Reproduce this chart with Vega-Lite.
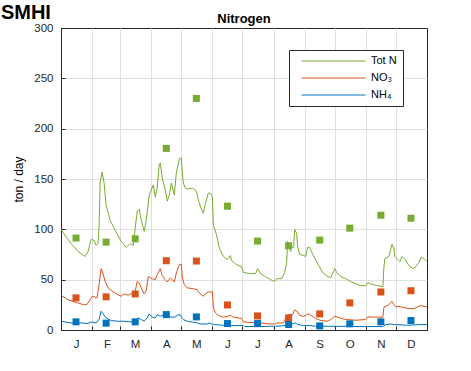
{
  "$schema": "https://vega.github.io/schema/vega-lite/v6.json",
  "width": 366,
  "height": 302,
  "autosize": {"type": "none"},
  "padding": {"left": 61, "top": 28, "right": 44, "bottom": 41},
  "title": {"text": "Nitrogen", "fontSize": 13, "fontWeight": "bold", "font": "Liberation Sans", "color": "#000000", "anchor": "middle", "frame": "group", "baseline": "alphabetic", "offset": -33.7},
  "config": {
    "font": "Liberation Sans",
    "view": {"stroke": "#262626", "strokeWidth": 1},
    "axis": {"domainColor": "#262626", "tickColor": "#262626", "labelColor": "#262626", "titleColor": "#000000", "gridColor": "#dfdfdf", "gridWidth": 1, "labelFontSize": 11.5, "titleFontWeight": "normal", "labelOverlap": false, "labelSeparation": 0}
  },
  "datasets": {
    "daily": [
      {"d":0,"v":100,"s":"Tot N"},{"d":4,"v":94,"s":"Tot N"},{"d":7,"v":90,"s":"Tot N"},{"d":10,"v":86,"s":"Tot N"},{"d":17,"v":78,"s":"Tot N"},{"d":24,"v":73,"s":"Tot N"},{"d":27,"v":78,"s":"Tot N"},{"d":29,"v":86,"s":"Tot N"},{"d":30,"v":90,"s":"Tot N"},{"d":33,"v":89,"s":"Tot N"},{"d":35,"v":84,"s":"Tot N"},{"d":37,"v":86,"s":"Tot N"},{"d":38,"v":103,"s":"Tot N"},{"d":39,"v":146,"s":"Tot N"},{"d":41,"v":157,"s":"Tot N"},{"d":43,"v":146,"s":"Tot N"},{"d":45,"v":124,"s":"Tot N"},{"d":49,"v":109,"s":"Tot N"},{"d":54,"v":99,"s":"Tot N"},{"d":60,"v":88,"s":"Tot N"},{"d":65,"v":82,"s":"Tot N"},{"d":69,"v":86,"s":"Tot N"},{"d":72,"v":84,"s":"Tot N"},{"d":74,"v":101,"s":"Tot N"},{"d":76,"v":118,"s":"Tot N"},{"d":78,"v":120,"s":"Tot N"},{"d":80,"v":109,"s":"Tot N"},{"d":83,"v":98,"s":"Tot N"},{"d":85,"v":109,"s":"Tot N"},{"d":88,"v":134,"s":"Tot N"},{"d":90,"v":139,"s":"Tot N"},{"d":92,"v":144,"s":"Tot N"},{"d":94,"v":132,"s":"Tot N"},{"d":96,"v":142,"s":"Tot N"},{"d":98,"v":164,"s":"Tot N"},{"d":99,"v":166,"s":"Tot N"},{"d":101,"v":151,"s":"Tot N"},{"d":104,"v":139,"s":"Tot N"},{"d":106,"v":128,"s":"Tot N"},{"d":108,"v":134,"s":"Tot N"},{"d":110,"v":146,"s":"Tot N"},{"d":111,"v":142,"s":"Tot N"},{"d":113,"v":134,"s":"Tot N"},{"d":115,"v":156,"s":"Tot N"},{"d":118,"v":170,"s":"Tot N"},{"d":120,"v":171,"s":"Tot N"},{"d":121,"v":156,"s":"Tot N"},{"d":122,"v":146,"s":"Tot N"},{"d":124,"v":141,"s":"Tot N"},{"d":126,"v":140,"s":"Tot N"},{"d":131,"v":141,"s":"Tot N"},{"d":135,"v":138,"s":"Tot N"},{"d":137,"v":129,"s":"Tot N"},{"d":140,"v":120,"s":"Tot N"},{"d":142,"v":116,"s":"Tot N"},{"d":144,"v":126,"s":"Tot N"},{"d":147,"v":136,"s":"Tot N"},{"d":149,"v":136,"s":"Tot N"},{"d":151,"v":132,"s":"Tot N"},{"d":152,"v":104,"s":"Tot N"},{"d":155,"v":95,"s":"Tot N"},{"d":158,"v":81,"s":"Tot N"},{"d":162,"v":73,"s":"Tot N"},{"d":166,"v":70,"s":"Tot N"},{"d":169,"v":74,"s":"Tot N"},{"d":170,"v":69,"s":"Tot N"},{"d":175,"v":65,"s":"Tot N"},{"d":180,"v":63,"s":"Tot N"},{"d":182,"v":57,"s":"Tot N"},{"d":189,"v":56,"s":"Tot N"},{"d":194,"v":56,"s":"Tot N"},{"d":196,"v":61,"s":"Tot N"},{"d":199,"v":56,"s":"Tot N"},{"d":204,"v":53,"s":"Tot N"},{"d":209,"v":50,"s":"Tot N"},{"d":213,"v":48,"s":"Tot N"},{"d":215,"v":51,"s":"Tot N"},{"d":220,"v":51,"s":"Tot N"},{"d":223,"v":57,"s":"Tot N"},{"d":225,"v":66,"s":"Tot N"},{"d":226,"v":88,"s":"Tot N"},{"d":227,"v":85,"s":"Tot N"},{"d":229,"v":78,"s":"Tot N"},{"d":230,"v":82,"s":"Tot N"},{"d":232,"v":82,"s":"Tot N"},{"d":233,"v":100,"s":"Tot N"},{"d":235,"v":96,"s":"Tot N"},{"d":236,"v":83,"s":"Tot N"},{"d":238,"v":75,"s":"Tot N"},{"d":242,"v":74,"s":"Tot N"},{"d":244,"v":73,"s":"Tot N"},{"d":246,"v":82,"s":"Tot N"},{"d":248,"v":82,"s":"Tot N"},{"d":251,"v":75,"s":"Tot N"},{"d":255,"v":68,"s":"Tot N"},{"d":257,"v":64,"s":"Tot N"},{"d":261,"v":57,"s":"Tot N"},{"d":266,"v":53,"s":"Tot N"},{"d":269,"v":52,"s":"Tot N"},{"d":273,"v":61,"s":"Tot N"},{"d":275,"v":57,"s":"Tot N"},{"d":279,"v":53,"s":"Tot N"},{"d":284,"v":51,"s":"Tot N"},{"d":289,"v":48,"s":"Tot N"},{"d":294,"v":46,"s":"Tot N"},{"d":299,"v":44,"s":"Tot N"},{"d":304,"v":44,"s":"Tot N"},{"d":306,"v":47,"s":"Tot N"},{"d":311,"v":45,"s":"Tot N"},{"d":316,"v":44,"s":"Tot N"},{"d":321,"v":43,"s":"Tot N"},{"d":322,"v":62,"s":"Tot N"},{"d":323,"v":71,"s":"Tot N"},{"d":327,"v":73,"s":"Tot N"},{"d":329,"v":81,"s":"Tot N"},{"d":330,"v":85,"s":"Tot N"},{"d":332,"v":81,"s":"Tot N"},{"d":333,"v":73,"s":"Tot N"},{"d":336,"v":70,"s":"Tot N"},{"d":338,"v":68,"s":"Tot N"},{"d":340,"v":73,"s":"Tot N"},{"d":343,"v":70,"s":"Tot N"},{"d":347,"v":64,"s":"Tot N"},{"d":351,"v":61,"s":"Tot N"},{"d":354,"v":63,"s":"Tot N"},{"d":357,"v":67,"s":"Tot N"},{"d":359,"v":72,"s":"Tot N"},{"d":362,"v":71,"s":"Tot N"},{"d":365,"v":68,"s":"Tot N"},

      {"d":0,"v":34.5,"s":"NO₃"},{"d":7,"v":30,"s":"NO₃"},{"d":15,"v":27.5,"s":"NO₃"},{"d":23,"v":25,"s":"NO₃"},{"d":26,"v":25.5,"s":"NO₃"},{"d":29,"v":30,"s":"NO₃"},{"d":31,"v":33.5,"s":"NO₃"},{"d":33,"v":33,"s":"NO₃"},{"d":36,"v":32,"s":"NO₃"},{"d":38,"v":45,"s":"NO₃"},{"d":40,"v":61,"s":"NO₃"},{"d":42,"v":55.6,"s":"NO₃"},{"d":44,"v":48.3,"s":"NO₃"},{"d":47,"v":41.8,"s":"NO₃"},{"d":52,"v":37.8,"s":"NO₃"},{"d":57,"v":35,"s":"NO₃"},{"d":60,"v":33.5,"s":"NO₃"},{"d":63,"v":36,"s":"NO₃"},{"d":67,"v":34.5,"s":"NO₃"},{"d":70,"v":36,"s":"NO₃"},{"d":74,"v":38.4,"s":"NO₃"},{"d":76,"v":48.3,"s":"NO₃"},{"d":78,"v":46.7,"s":"NO₃"},{"d":80,"v":41.8,"s":"NO₃"},{"d":83,"v":36,"s":"NO₃"},{"d":85,"v":39,"s":"NO₃"},{"d":87,"v":53,"s":"NO₃"},{"d":89,"v":52,"s":"NO₃"},{"d":91,"v":51,"s":"NO₃"},{"d":94,"v":50,"s":"NO₃"},{"d":96,"v":55,"s":"NO₃"},{"d":99,"v":61,"s":"NO₃"},{"d":101,"v":54,"s":"NO₃"},{"d":104,"v":50,"s":"NO₃"},{"d":106,"v":47.7,"s":"NO₃"},{"d":109,"v":51.7,"s":"NO₃"},{"d":111,"v":50,"s":"NO₃"},{"d":113,"v":47.7,"s":"NO₃"},{"d":115,"v":56.6,"s":"NO₃"},{"d":118,"v":65,"s":"NO₃"},{"d":120,"v":65.5,"s":"NO₃"},{"d":121,"v":51.7,"s":"NO₃"},{"d":123,"v":45,"s":"NO₃"},{"d":126,"v":41.8,"s":"NO₃"},{"d":132,"v":41,"s":"NO₃"},{"d":136,"v":40,"s":"NO₃"},{"d":138,"v":36.8,"s":"NO₃"},{"d":142,"v":33.5,"s":"NO₃"},{"d":144,"v":36,"s":"NO₃"},{"d":147,"v":37.8,"s":"NO₃"},{"d":151,"v":37.8,"s":"NO₃"},{"d":152,"v":22,"s":"NO₃"},{"d":154,"v":17,"s":"NO₃"},{"d":157,"v":14.4,"s":"NO₃"},{"d":162,"v":12.7,"s":"NO₃"},{"d":167,"v":13.7,"s":"NO₃"},{"d":169,"v":14.7,"s":"NO₃"},{"d":172,"v":12.7,"s":"NO₃"},{"d":180,"v":11.4,"s":"NO₃"},{"d":182,"v":8.1,"s":"NO₃"},{"d":195,"v":7,"s":"NO₃"},{"d":199,"v":7,"s":"NO₃"},{"d":209,"v":6,"s":"NO₃"},{"d":214,"v":6,"s":"NO₃"},{"d":215,"v":7,"s":"NO₃"},{"d":222,"v":7,"s":"NO₃"},{"d":225,"v":13.7,"s":"NO₃"},{"d":227,"v":15,"s":"NO₃"},{"d":231,"v":15.5,"s":"NO₃"},{"d":233,"v":20,"s":"NO₃"},{"d":236,"v":18,"s":"NO₃"},{"d":238,"v":14.4,"s":"NO₃"},{"d":242,"v":13.5,"s":"NO₃"},{"d":245,"v":15.3,"s":"NO₃"},{"d":247,"v":16,"s":"NO₃"},{"d":249,"v":14.7,"s":"NO₃"},{"d":254,"v":11.4,"s":"NO₃"},{"d":259,"v":9.4,"s":"NO₃"},{"d":266,"v":8.7,"s":"NO₃"},{"d":269,"v":10.4,"s":"NO₃"},{"d":273,"v":13.7,"s":"NO₃"},{"d":278,"v":12,"s":"NO₃"},{"d":284,"v":10.4,"s":"NO₃"},{"d":294,"v":9.7,"s":"NO₃"},{"d":304,"v":10.4,"s":"NO₃"},{"d":306,"v":13,"s":"NO₃"},{"d":317,"v":12.7,"s":"NO₃"},{"d":321,"v":12.7,"s":"NO₃"},{"d":322,"v":22.6,"s":"NO₃"},{"d":324,"v":23.6,"s":"NO₃"},{"d":327,"v":25.2,"s":"NO₃"},{"d":330,"v":28.5,"s":"NO₃"},{"d":332,"v":25.2,"s":"NO₃"},{"d":334,"v":23,"s":"NO₃"},{"d":337,"v":23.6,"s":"NO₃"},{"d":340,"v":22.6,"s":"NO₃"},{"d":347,"v":21.3,"s":"NO₃"},{"d":352,"v":21.3,"s":"NO₃"},{"d":355,"v":22.6,"s":"NO₃"},{"d":358,"v":24.3,"s":"NO₃"},{"d":362,"v":23.6,"s":"NO₃"},{"d":365,"v":23,"s":"NO₃"},

      {"d":0,"v":8.7,"s":"NH₄"},{"d":10,"v":7,"s":"NH₄"},{"d":20,"v":7,"s":"NH₄"},{"d":27,"v":6.5,"s":"NH₄"},{"d":30,"v":8,"s":"NH₄"},{"d":35,"v":7,"s":"NH₄"},{"d":38,"v":10.4,"s":"NH₄"},{"d":40,"v":18.6,"s":"NH₄"},{"d":42,"v":16,"s":"NH₄"},{"d":45,"v":12,"s":"NH₄"},{"d":50,"v":9.4,"s":"NH₄"},{"d":57,"v":8.7,"s":"NH₄"},{"d":63,"v":8.7,"s":"NH₄"},{"d":70,"v":8,"s":"NH₄"},{"d":74,"v":8.7,"s":"NH₄"},{"d":77,"v":12,"s":"NH₄"},{"d":80,"v":10.4,"s":"NH₄"},{"d":83,"v":8.7,"s":"NH₄"},{"d":86,"v":12,"s":"NH₄"},{"d":88,"v":16,"s":"NH₄"},{"d":91,"v":12.7,"s":"NH₄"},{"d":94,"v":12,"s":"NH₄"},{"d":96,"v":15.3,"s":"NH₄"},{"d":99,"v":13.7,"s":"NH₄"},{"d":102,"v":14.7,"s":"NH₄"},{"d":105,"v":13.7,"s":"NH₄"},{"d":110,"v":12.7,"s":"NH₄"},{"d":113,"v":12.7,"s":"NH₄"},{"d":116,"v":14.7,"s":"NH₄"},{"d":119,"v":15.3,"s":"NH₄"},{"d":121,"v":11.4,"s":"NH₄"},{"d":122,"v":10.4,"s":"NH₄"},{"d":126,"v":8.7,"s":"NH₄"},{"d":136,"v":7,"s":"NH₄"},{"d":139,"v":6,"s":"NH₄"},{"d":146,"v":6,"s":"NH₄"},{"d":148,"v":7,"s":"NH₄"},{"d":152,"v":5.4,"s":"NH₄"},{"d":162,"v":4.7,"s":"NH₄"},{"d":169,"v":4.4,"s":"NH₄"},{"d":182,"v":4.4,"s":"NH₄"},{"d":183,"v":3.4,"s":"NH₄"},{"d":199,"v":3.4,"s":"NH₄"},{"d":206,"v":3.7,"s":"NH₄"},{"d":214,"v":3.7,"s":"NH₄"},{"d":219,"v":4,"s":"NH₄"},{"d":225,"v":4.7,"s":"NH₄"},{"d":234,"v":7,"s":"NH₄"},{"d":236,"v":5.4,"s":"NH₄"},{"d":242,"v":4.4,"s":"NH₄"},{"d":248,"v":4.4,"s":"NH₄"},{"d":254,"v":3.7,"s":"NH₄"},{"d":274,"v":3.7,"s":"NH₄"},{"d":304,"v":3.4,"s":"NH₄"},{"d":321,"v":3.4,"s":"NH₄"},{"d":322,"v":4.4,"s":"NH₄"},{"d":324,"v":5.4,"s":"NH₄"},{"d":329,"v":6,"s":"NH₄"},{"d":332,"v":5.4,"s":"NH₄"},{"d":347,"v":4.7,"s":"NH₄"},{"d":357,"v":5.4,"s":"NH₄"},{"d":365,"v":5.4,"s":"NH₄"}
    ],
    "monthly": [
      {"d":15,"v":91.3,"s":"Tot N"},{"d":45,"v":87.3,"s":"Tot N"},{"d":74,"v":90.6,"s":"Tot N"},{"d":105,"v":180.4,"s":"Tot N"},{"d":135,"v":230,"s":"Tot N"},{"d":166,"v":123,"s":"Tot N"},{"d":196,"v":88.3,"s":"Tot N"},{"d":227,"v":83.7,"s":"Tot N"},{"d":258,"v":89.3,"s":"Tot N"},{"d":288,"v":101.2,"s":"Tot N"},{"d":319,"v":114,"s":"Tot N"},{"d":349,"v":111,"s":"Tot N"},
      {"d":15,"v":31.9,"s":"NO₃"},{"d":45,"v":32.9,"s":"NO₃"},{"d":74,"v":35.8,"s":"NO₃"},{"d":105,"v":68.8,"s":"NO₃"},{"d":135,"v":68.5,"s":"NO₃"},{"d":166,"v":24.9,"s":"NO₃"},{"d":196,"v":14,"s":"NO₃"},{"d":227,"v":12,"s":"NO₃"},{"d":258,"v":16,"s":"NO₃"},{"d":288,"v":26.9,"s":"NO₃"},{"d":319,"v":37.8,"s":"NO₃"},{"d":349,"v":39,"s":"NO₃"},
      {"d":15,"v":8.1,"s":"NH₄"},{"d":45,"v":6.8,"s":"NH₄"},{"d":74,"v":8.1,"s":"NH₄"},{"d":105,"v":15.3,"s":"NH₄"},{"d":135,"v":13,"s":"NH₄"},{"d":166,"v":6.4,"s":"NH₄"},{"d":196,"v":6.4,"s":"NH₄"},{"d":227,"v":5.4,"s":"NH₄"},{"d":258,"v":4.1,"s":"NH₄"},{"d":288,"v":6.1,"s":"NH₄"},{"d":319,"v":8.1,"s":"NH₄"},{"d":349,"v":9.4,"s":"NH₄"}
    ]
  },
  "layer": [
    {
      "data": {"name": "daily"},
      "mark": {"type": "line", "strokeWidth": 1, "clip": true},
      "encoding": {
        "x": {
          "field": "d", "type": "quantitative",
          "scale": {"domain": [0, 365], "nice": false, "zero": false},
          "axis": {
            "title": null,
            "values": [0, 31, 59, 90, 120, 151, 181, 212, 243, 273, 304, 334, 365],
            "tickCount": 20,
            "labelExpr": "['J','F','M','A','M','J','J','A','S','O','N','D',''][indexof([0,31,59,90,120,151,181,212,243,273,304,334,365], datum.value)]",
            "labelOffset": 15,
            "labelFlush": false,
            "labelOverlap": false,
            "labelPadding": 12,
            "tickSize": -4,
            "gridOpacity": {"condition": {"test": "datum.value == 0 || datum.value == 365", "value": 0}, "value": 1}
          }
        },
        "y": {
          "field": "v", "type": "quantitative",
          "scale": {"domain": [0, 300], "nice": false},
          "axis": {
            "title": "ton / day",
            "titleFontSize": 12,
            "titlePadding": 8,
            "values": [0, 50, 100, 150, 200, 250, 300],
            "tickCount": 10,
            "labelPadding": 12,
            "tickSize": -4,
            "gridOpacity": {"condition": {"test": "datum.value == 0 || datum.value == 300", "value": 0}, "value": 1}
          }
        },
        "color": {
          "field": "s", "type": "nominal",
          "scale": {"domain": ["Tot N", "NO₃", "NH₄"], "range": ["#77AC30", "#D95319", "#0072BD"]},
          "legend": {
            "orient": "none", "legendX": 228, "legendY": 22, "title": null,
            "symbolType": "M-6.4,0H6.4", "symbolSize": 100, "symbolStrokeWidth": 1,
            "symbolOffset": 33.5, "labelOffset": 32,
            "labelFontSize": 11, "labelFont": "Liberation Sans", "labelColor": "#000000",
            "padding": 5.5, "rowPadding": 5,
            "strokeColor": "#262626", "fillColor": "#ffffff", "cornerRadius": 0
          }
        }
      }
    },
    {
      "data": {"name": "monthly"},
      "mark": {"type": "point", "shape": "square", "filled": true, "size": 49, "opacity": 1},
      "encoding": {
        "x": {"field": "d", "type": "quantitative"},
        "y": {"field": "v", "type": "quantitative"},
        "fill": {
          "field": "s", "type": "nominal",
          "scale": {"domain": ["Tot N", "NO₃", "NH₄"], "range": ["#77AC30", "#D95319", "#0072BD"]},
          "legend": null
        }
      }
    },
    {
      "data": {"values": [{"logo": "SMHI"}]},
      "mark": {"type": "text", "font": "Liberation Sans Narrow, Liberation Sans", "fontWeight": "bold", "fontSize": 20, "align": "center", "baseline": "alphabetic", "color": "#000000", "clip": false},
      "encoding": {
        "x": {"datum": -35, "type": "quantitative"},
        "y": {"datum": 309.3, "type": "quantitative"},
        "text": {"field": "logo"}
      }
    }
  ]
}
